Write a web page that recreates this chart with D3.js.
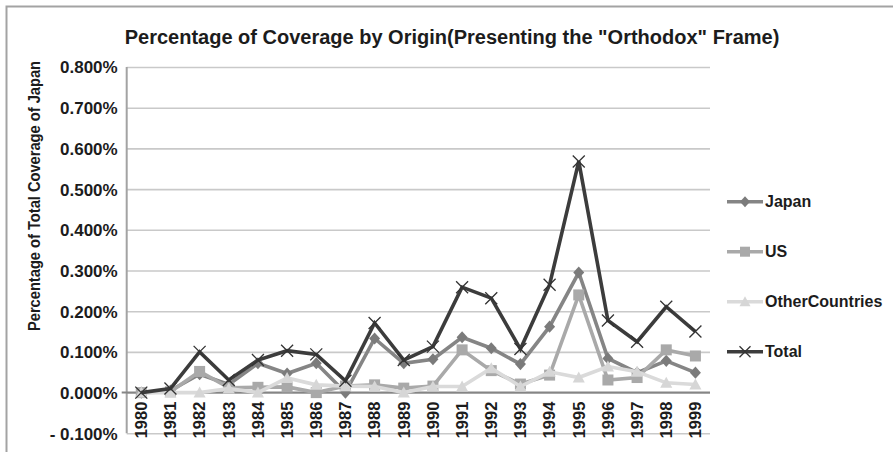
<!DOCTYPE html>
<html>
<head>
<meta charset="utf-8">
<script src="https://cdn.jsdelivr.net/npm/d3@7"></script>
<style>
  html, body { margin: 0; padding: 0; background: #fff; }
  svg { display: block; font-family: "Liberation Sans", Arial, Helvetica, sans-serif; }
</style>
</head>
<body>
<svg id="chart" width="893" height="452"></svg>
<script>
// Share of total Japan coverage (in percent) presenting the "Orthodox" frame, by origin
const years = ["1980","1981","1982","1983","1984","1985","1986","1987","1988","1989",
               "1990","1991","1992","1993","1994","1995","1996","1997","1998","1999"];
const japan  = [0.000, 0.005, 0.045, 0.020, 0.072, 0.047, 0.072, 0.000, 0.133, 0.072,
                0.082, 0.136, 0.109, 0.070, 0.162, 0.295, 0.084, 0.049, 0.078, 0.049];
const us     = [0.000, 0.002, 0.052, 0.012, 0.013, 0.014, 0.000, 0.016, 0.019, 0.011,
                0.016, 0.105, 0.054, 0.021, 0.043, 0.240, 0.031, 0.037, 0.105, 0.090];
const others = [0.000, 0.000, 0.000, 0.010, 0.000, 0.036, 0.019, 0.016, 0.015, 0.000,
                0.015, 0.015, 0.060, 0.015, 0.051, 0.037, 0.064, 0.051, 0.024, 0.020];
const total  = [0.000, 0.010, 0.100, 0.031, 0.080, 0.103, 0.094, 0.029, 0.171, 0.080,
                0.113, 0.259, 0.232, 0.107, 0.265, 0.568, 0.177, 0.125, 0.211, 0.150];
const seriesNames = ["Japan", "US", "OtherCountries", "Total"];
const yTicks = [-0.1, 0.0, 0.1, 0.2, 0.3, 0.4, 0.5, 0.6, 0.7, 0.8];
const yTickLabels = ["- 0.100%", "0.000%", "0.100%", "0.200%", "0.300%",
                     "0.400%", "0.500%", "0.600%", "0.700%", "0.800%"];
const titleText = "Percentage of Coverage by Origin(Presenting the \"Orthodox\" Frame)";
const yTitleText = "Percentage of Total Coverage of Japan";

const series = [
  { name: seriesNames[0], values: japan,  line: "#858585", fill: "#7b7b7b", shape: "diamond" },
  { name: seriesNames[1], values: us,     line: "#a9a9a9", fill: "#a9a9a9", shape: "square" },
  { name: seriesNames[2], values: others, line: "#dadada", fill: "#d6d6d6", shape: "triangle" },
  { name: seriesNames[3], values: total,  line: "#3c3c3c", fill: "#333333", shape: "cross" }
];

const svg = d3.select("#chart");
const plot = { left: 126.7, right: 710, top: 67, bottom: 433.3 };

const x = d3.scaleBand().domain(years).range([plot.left, plot.right]).padding(0);
const cx = d => x(d) + x.bandwidth() / 2;
const y = d3.scaleLinear().domain([yTicks[0], yTicks[yTicks.length - 1]]).range([plot.bottom, plot.top]);

// outer frame
svg.append("path")
  .attr("d", `M6.5,452 V6.5 H893`)
  .attr("fill", "none").attr("stroke", "#a3a3a3").attr("stroke-width", 2);

// title
svg.append("text")
  .attr("x", 452).attr("y", 44)
  .attr("text-anchor", "middle")
  .attr("font-size", 20).attr("font-weight", "bold").attr("fill", "#1c1c1c")
  .text(titleText);

// horizontal gridlines
const yAxis = d3.axisLeft(y).tickValues(yTicks)
  .tickSize(-(plot.right - plot.left))
  .tickFormat((d, i) => yTickLabels[i]);
const gy = svg.append("g").attr("transform", `translate(${plot.left},0)`).call(yAxis);
gy.select(".domain").remove();
gy.selectAll(".tick line").attr("stroke", "#c9c9c9").attr("stroke-width", 1.6);
gy.selectAll(".tick text")
  .attr("x", -9).attr("dy", "0.35em")
  .attr("font-size", 17).attr("font-weight", "bold").attr("fill", "#1c1c1c")
  .attr("font-family", "Liberation Sans, Arial, sans-serif");

// value axis line
svg.append("line")
  .attr("x1", plot.left).attr("x2", plot.left)
  .attr("y1", plot.top).attr("y2", plot.bottom)
  .attr("stroke", "#a3a3a3").attr("stroke-width", 2);

// category labels, placed beneath the zero line
const zeroY = y(0);
svg.append("g").selectAll("text").data(years).join("text")
  .attr("transform", d => `translate(${cx(d)},${zeroY + 9}) rotate(-90)`)
  .attr("text-anchor", "end").attr("dy", "0.35em")
  .attr("font-size", 16.5).attr("font-weight", "bold").attr("fill", "#1c1c1c")
  .text(d => d);

// category axis at zero
svg.append("line")
  .attr("x1", plot.left - 5).attr("x2", plot.right)
  .attr("y1", zeroY).attr("y2", zeroY)
  .attr("stroke", "#858585").attr("stroke-width", 2);

function marker(g, shape, fill, size) {
  const s = size;
  if (shape === "diamond") {
    g.append("path").attr("d", `M0,${-s*0.55} L${s*0.5},0 L0,${s*0.55} L${-s*0.5},0 Z`).attr("fill", fill);
  } else if (shape === "square") {
    g.append("rect").attr("x", -s/2).attr("y", -s/2).attr("width", s).attr("height", s).attr("fill", fill);
  } else if (shape === "triangle") {
    g.append("path").attr("d", `M0,${-s*0.55} L${s*0.55},${s*0.45} L${-s*0.55},${s*0.45} Z`).attr("fill", fill);
  } else {
    const h = s * 0.5;
    g.append("path").attr("d", `M${-h},${-h} L${h},${h} M${-h},${h} L${h},${-h}`)
      .attr("stroke", fill).attr("stroke-width", 1.3).attr("fill", "none");
  }
}

const line = d3.line().x((d, i) => cx(years[i])).y(d => y(d));

series.forEach(s => {
  const g = svg.append("g");
  g.append("path").datum(s.values)
    .attr("d", line)
    .attr("fill", "none").attr("stroke", s.line).attr("stroke-width", 3.6)
    .attr("stroke-linejoin", "miter");
  s.values.forEach((v, i) => {
    const m = g.append("g").attr("transform", `translate(${cx(years[i])},${y(v)})`);
    marker(m, s.shape, s.fill, s.shape === "cross" ? 12 : 11);
  });
});

// y-axis title
svg.append("text")
  .attr("transform", `translate(40,196) rotate(-90)`)
  .attr("text-anchor", "middle")
  .attr("font-size", 16.5).attr("font-weight", "bold").attr("fill", "#1c1c1c")
  .attr("textLength", 270).attr("lengthAdjust", "spacingAndGlyphs")
  .text(yTitleText);

// legend
const legendY = [201.7, 251.7, 301.7, 351.7];
series.forEach((s, i) => {
  const g = svg.append("g").attr("transform", `translate(0,${legendY[i]})`);
  g.append("line").attr("x1", 727).attr("x2", 763).attr("y1", 0).attr("y2", 0)
    .attr("stroke", s.line).attr("stroke-width", 3.6);
  const m = g.append("g").attr("transform", "translate(745,0)");
  marker(m, s.shape, s.fill, s.shape === "cross" ? 11 : 10);
  g.append("text").attr("x", 765).attr("y", 0).attr("dy", "0.35em")
    .attr("font-size", 16).attr("font-weight", "bold").attr("fill", "#1c1c1c")
    .text(s.name);
});
</script>
</body>
</html>
